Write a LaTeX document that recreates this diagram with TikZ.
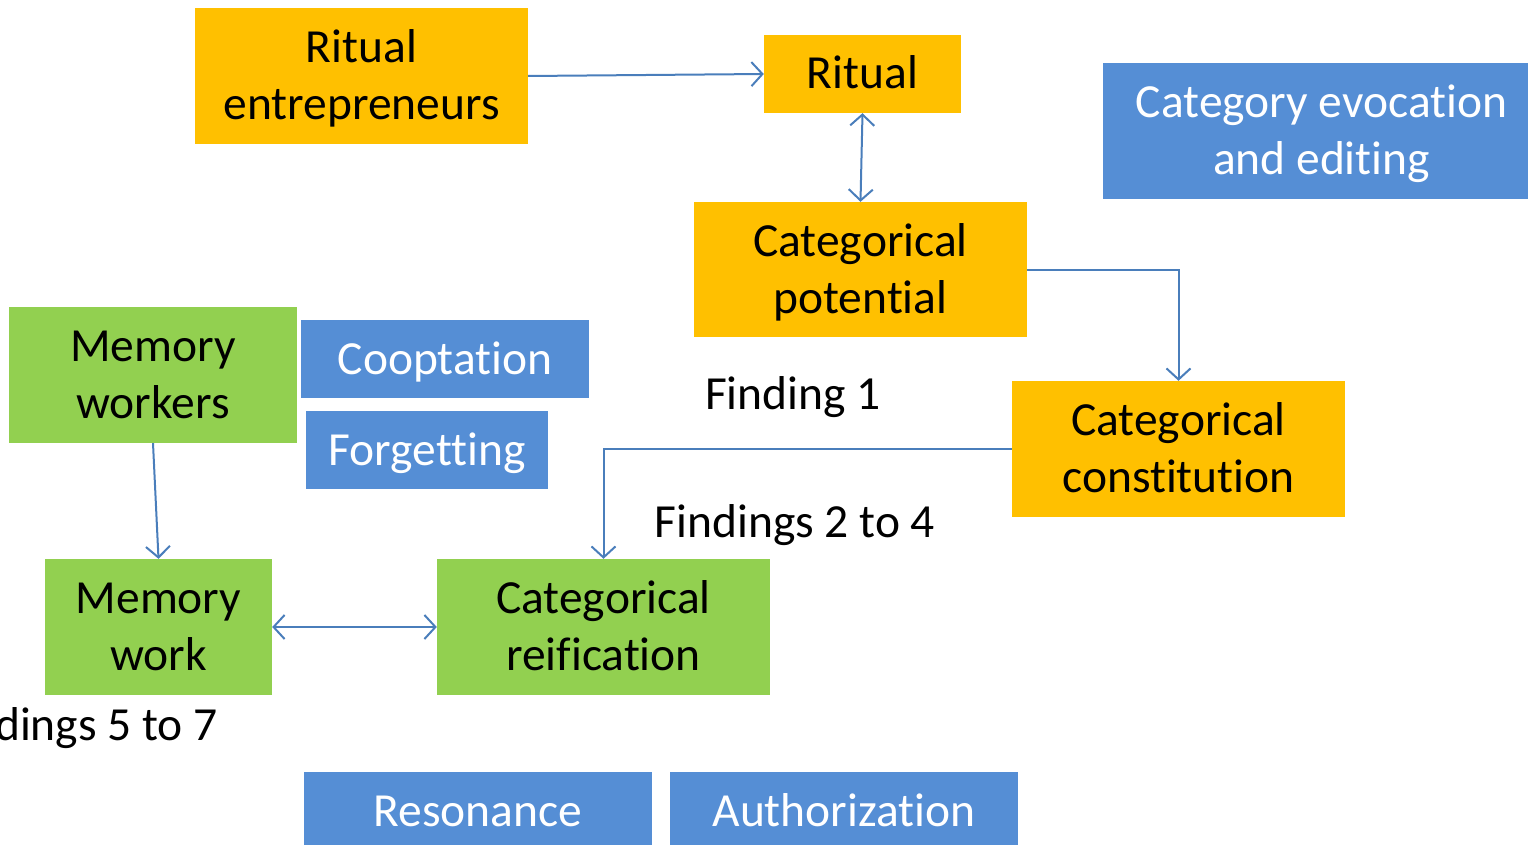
\documentclass[tikz,border=0pt]{standalone}
\usepackage{fontspec}
\setmainfont{Carlito}[Ligatures={NoCommon}]
\usetikzlibrary{arrows.meta}
\definecolor{boxyellow}{HTML}{FFC000}
\definecolor{boxgreen}{HTML}{92D050}
\definecolor{boxblue}{HTML}{558ED5}
\definecolor{linkblue}{HTML}{4A7EBB}
% lines set on struts, so every box places its text the same way;
% the text sits a little below the strut box's middle
\newcommand{\celltext}[1]{\raisebox{-3.6pt}[\height][\depth]{\begin{tabular}{@{}c@{}}#1\end{tabular}}}
\tikzset{
  box/.style={inner sep=0pt, font=\fontsize{47.5}{57}\selectfont},
  ybox/.style={box, fill=boxyellow, text=black},
  gbox/.style={box, fill=boxgreen, text=black},
  bbox/.style={box, fill=boxblue, text=white},
  caption/.style={inner sep=0pt, font=\fontsize{47.5}{57}\selectfont},
  barb/.tip={Straight Barb[length=11pt,width=24pt,line width=2pt]},
  link/.style={draw=linkblue, line width=2pt, -barb},
  dlink/.style={link, barb-barb}
}
\begin{document}
\begin{tikzpicture}[x=1pt,y=-1pt]
\useasboundingbox (0,0) rectangle (1528,845);
\clip (0,0) rectangle (1528,845);

\node[ybox, minimum width=333pt, minimum height=136pt] (re) at (361.5,76) {\celltext{Ritual\\entrepreneurs}};
\node[ybox, minimum width=197pt, minimum height=78pt] (rit) at (862.5,74) {\celltext{Ritual}};
\node[bbox, minimum width=437pt, minimum height=136pt] (cee) at (1321.5,131) {\celltext{Category evocation\\and editing}};
\node[ybox, minimum width=333pt, minimum height=135pt] (cp) at (860.5,269.5) {\celltext{Categorical\\potential}};
\node[gbox, minimum width=288pt, minimum height=136pt] (mw) at (153,375) {\celltext{Memory\\workers}};
\node[bbox, minimum width=288pt, minimum height=78pt] (coop) at (445,359) {\celltext{Cooptation}};
\node[bbox, minimum width=242pt, minimum height=78pt] (forg) at (427,450) {\celltext{Forgetting}};
\node[caption, anchor=base] (f1) at (793,409) {Finding 1};
\node[ybox, minimum width=333pt, minimum height=136pt] (cc) at (1178.5,449) {\celltext{Categorical\\constitution}};
\node[caption, anchor=base] (f24) at (795,537) {Findings 2 to 4};
\node[gbox, minimum width=227pt, minimum height=136pt] (mwork) at (158.5,627) {\celltext{Memory\\work}};
\node[gbox, minimum width=333pt, minimum height=136pt] (cr) at (603.5,627) {\celltext{Categorical\\reification}};
\node[caption, anchor=base east] (f57) at (218,740) {Findings 5 to 7};
\node[bbox, minimum width=348pt, minimum height=78pt] (res) at (478,811) {\celltext{Resonance}};
\node[bbox, minimum width=348pt, minimum height=78pt] (auth) at (844,811) {\celltext{Authorization}};

\draw[link] (re.east) -- (rit.west);
\draw[dlink] (rit.south) -- (cp.north);
\draw[link] (cp.east) -| (cc.north);
\draw[link] (cc.west) -| (cr.north);
\draw[link] (mw.south) -- (mwork.north);
\draw[dlink] (mwork.east) -- (cr.west);
\end{tikzpicture}
\end{document}
